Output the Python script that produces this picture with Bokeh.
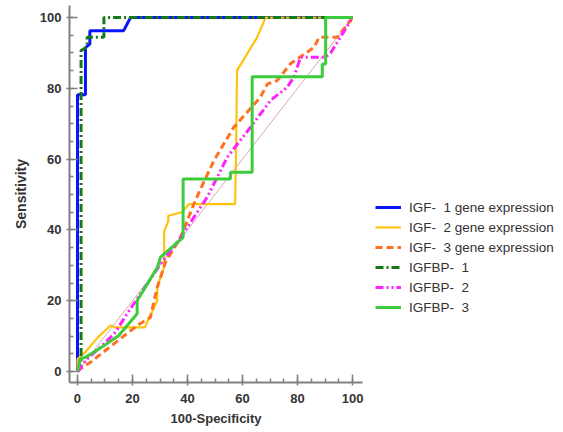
from bokeh.plotting import figure
from bokeh.models import Legend, LegendItem, SingleIntervalTicker, Range1d, Title
from bokeh.embed import file_html
from bokeh.resources import INLINE

# ROC curves (x = 100-Specificity, y = Sensitivity)
igf1_x = [0, 0, 2.9, 2.9, 4.5, 4.5, 16.8, 19.3, 100]
igf1_y = [0, 78.2, 78.2, 91.5, 92.5, 96.3, 96.3, 100, 100]

igf2_x = [0, 0, 2.9, 7.2, 12, 13.5, 24.5, 29, 29, 31.5, 31.5, 33, 33, 38, 40.5, 57.3, 57.6, 58, 65.3, 68.4, 100]
igf2_y = [0, 3.5, 5.5, 9.5, 13, 12.5, 12.5, 20, 24, 29.5, 39.5, 42.5, 44, 45, 47.3, 47.3, 60, 85, 94.4, 100, 100]

igf3_x = [0, 0.5, 4.7, 13.2, 21.7, 26.5, 29, 32, 37.5, 42.3, 44.7, 49.6, 56.8, 66.5, 69, 72.6, 77.5, 86, 87.8, 94.4, 100]
igf3_y = [0, 0.5, 2.6, 7.8, 13, 15.3, 23.8, 30.9, 37.9, 47.3, 51.5, 59.6, 69, 77.5, 81.2, 82.2, 87, 91.6, 94.4, 94.4, 100]

igfbp1_x = [0, 1.3, 1.3, 3.5, 3.5, 9.6, 9.6, 100]
igfbp1_y = [0, 3, 90.7, 91.7, 94.4, 94.4, 100, 100]

igfbp2_x = [0, 0.5, 2.9, 9.6, 13.8, 18, 25.3, 30.2, 37.5, 47.2, 54.4, 62.9, 70.2, 76.2, 78.7, 81.1, 90.2, 92, 100]
igfbp2_y = [0, 0.3, 3.1, 7.8, 11.1, 16.3, 24.7, 30.4, 37.9, 49.3, 60.5, 69, 76.6, 80.3, 83.2, 88.8, 88.8, 90, 100]

igfbp3_x = [0, 1.1, 2.9, 9.6, 15, 21.7, 21.7, 29, 30.2, 38.4, 38.4, 55.6, 55.6, 63.5, 63.5, 89, 89, 90.2, 90.2, 100]
igfbp3_y = [0, 3.6, 4, 7.3, 10.2, 16.3, 20, 29.4, 32.3, 37.9, 54.4, 54.4, 56.3, 56.3, 83.3, 83.3, 86.9, 86.9, 100, 100]

diag_x = [0, 100]
diag_y = [0, 100]

labels = ["IGF-  1 gene expression", "IGF-  2 gene expression", "IGF-  3 gene expression",
          "IGFBP-  1", "IGFBP-  2", "IGFBP-  3"]

x_title = "100-Specificity"
y_title = "Sensitivity"

# frame spans the full width to the right so the legend (drawn inside the frame) is not clipped;
# the x axis itself is limited with bounds
p = figure(width=563, height=432, output_backend="svg", toolbar_location=None,
           x_range=Range1d(-2.9, 176.67), y_range=Range1d(-3.1, 103.4),
           min_border_left=69, min_border_right=0, min_border_top=5, min_border_bottom=50)
p.xgrid.visible = False
p.ygrid.visible = False
p.outline_line_color = None
p.background_fill_color = "white"
p.border_fill_color = "white"

p.line(diag_x, diag_y, line_color="#d9a8a8", line_width=1)

r1 = p.line(igf1_x, igf1_y, line_color="#0a14ff", line_width=3)
r2 = p.line(igf2_x, igf2_y, line_color="#ffc20e", line_width=2.2)
r3 = p.line(igf3_x, igf3_y, line_color="#ff7020", line_width=3, line_dash="7 4")
r4 = p.line(igfbp1_x, igfbp1_y, line_color="#157a15", line_width=3, line_dash="8 3 2 3")
r5 = p.line(igfbp2_x, igfbp2_y, line_color="#ff22ff", line_width=3, line_dash="8 3 2 3 2 3")
r6 = p.line(igfbp3_x, igfbp3_y, line_color="#3ccc3c", line_width=3)

for ax in (p.xaxis[0], p.yaxis[0]):
    ax.ticker = SingleIntervalTicker(interval=20, num_minor_ticks=4)
    ax.axis_line_color = "#808080"
    ax.axis_line_width = 2
    ax.major_tick_line_color = "#808080"
    ax.minor_tick_line_color = "#808080"
    ax.major_tick_line_width = 1.5
    ax.minor_tick_line_width = 1.5
    ax.major_tick_in = 8
    ax.major_tick_out = 3
    ax.minor_tick_in = 4
    ax.minor_tick_out = 0
    ax.major_label_text_font = "Liberation Sans"
    ax.major_label_text_font_style = "bold"
    ax.major_label_text_font_size = "13px"
    ax.major_label_text_color = "#333333"
    ax.axis_label_text_font = "Liberation Sans"
    ax.axis_label_text_font_style = "bold"
    ax.axis_label_text_color = "#333333"

p.xaxis[0].bounds = (-2.9, 103.6)
p.yaxis.axis_label = y_title
p.yaxis.axis_label_text_font_size = "14px"
p.xaxis.major_label_standoff = 8
p.yaxis.major_label_standoff = 5
p.yaxis.axis_label_standoff = 8

p.add_layout(Title(text=x_title, align="left", offset=101, standoff=7,
                   vertical_align="bottom",
                   text_font="Liberation Sans", text_font_style="bold",
                   text_font_size="13px", text_color="#333333"), "below")

legend = Legend(items=[LegendItem(label=l, renderers=[r]) for l, r in zip(labels, [r1, r2, r3, r4, r5, r6])],
                location=(306, 65), border_line_color=None, background_fill_alpha=0,
                glyph_width=26, glyph_height=20, label_height=20, spacing=0,
                label_standoff=8, padding=5, margin=0,
                label_text_font="Liberation Sans", label_text_font_size="13.5px",
                label_text_color="#333333")
p.add_layout(legend, "center")

open("out.html", "w").write(file_html(p, INLINE))
